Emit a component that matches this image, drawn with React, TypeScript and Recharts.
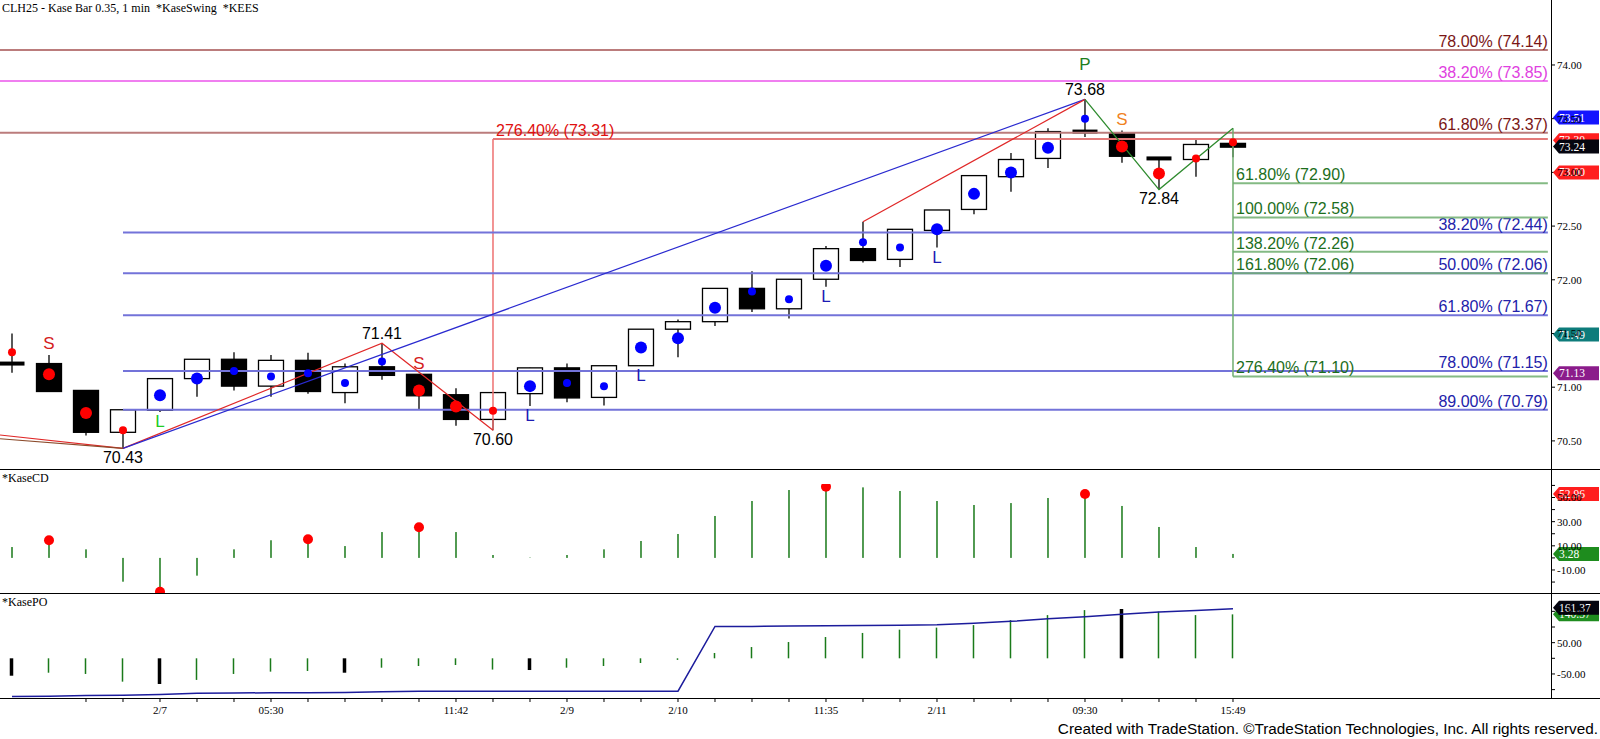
import React from "react";
import {
  Bar,
  ComposedChart,
  Line,
  ReferenceDot,
  ReferenceLine,
  Scatter,
  XAxis,
  YAxis,
} from "recharts";

document.body.style.margin = "0";

const SANS = '"Liberation Sans", Arial, sans-serif';
const SERIF = '"Liberation Serif", "Times New Roman", serif';

// x is the bar index; the plot runs from X_MIN (left edge) to X_MAX (price axis)
const X_MIN = -0.3243;
const X_MAX = 41.595;
const X_END = 41.51;
const barTicks = Array.from({ length: 34 }, (_, i) => i);

// Kase bars, oldest first
const opens = [71.22, 71.22, 70.97, 70.58, 70.785, 71.08, 71.26, 71.01, 71.25, 70.95, 71.19, 71.12, 70.93, 70.7, 70.94, 71.18, 70.905, 71.2, 71.54, 71.61, 71.92, 71.73, 72.005, 72.29, 72.19, 72.46, 72.655, 72.96, 73.13, 73.38, 73.37, 73.13, 73.12, 73.27];
const highs = [71.5, 71.3, 70.97, 70.79, 71.08, 71.26, 71.325, 71.3, 71.32, 71.22, 71.41, 71.12, 70.99, 70.95, 71.18, 71.22, 71.2, 71.54, 71.63, 71.92, 72.08, 72.005, 72.315, 72.54, 72.47, 72.65, 72.975, 73.18, 73.41, 73.68, 73.39, 73.13, 73.31, 73.27];
const lows = [71.135, 70.955, 70.55, 70.43, 70.77, 70.91, 70.97, 70.91, 70.94, 70.85, 71.07, 70.79, 70.64, 70.6, 70.825, 70.86, 70.83, 71.2, 71.28, 71.57, 71.7, 71.64, 71.935, 72.16, 72.12, 72.3, 72.61, 72.82, 73.04, 73.33, 73.09, 72.84, 72.96, 73.14];
const closes = [71.22, 70.96, 70.58, 70.79, 71.08, 71.26, 71.01, 71.25, 70.96, 71.19, 71.11, 70.92, 70.7, 70.95, 71.18, 70.9, 71.2, 71.54, 71.61, 71.92, 71.73, 72.005, 72.29, 72.18, 72.47, 72.65, 72.97, 73.12, 73.38, 73.38, 73.15, 73.13, 73.26, 73.235];

// KaseSwing dots: R/r = sell (big/small), B/b = buy (big/small)
const dotValues = [71.325, 71.12, 70.76, 70.6, 70.925, 71.08, 71.15, 71.1, 71.13, 71.04, 71.24, 70.97, 70.82, 70.78, 71.01, 71.04, 71.01, 71.37, 71.455, 71.74, 71.89, 71.82, 72.13, 72.35, 72.3, 72.47, 72.8, 73.0, 73.23, 73.5, 73.24, 72.99, 73.13, 73.28];
const dotTypes = ["r", "R", "R", "r", "B", "B", "b", "b", "b", "b", "b", "R", "R", "r", "B", "b", "b", "B", "B", "B", "b", "b", "B", "b", "b", "B", "B", "B", "B", "b", "R", "R", "r", "r"];

// swing signals per bar
const signals = ["", "S", "", "", "Lg", "", "", "", "", "", "", "S", "", "", "L", "", "", "L", "", "", "", "", "L", "", "", "L", "", "", "", "P", "So", "", "", ""];

const timeLabels = ["", "", "", "", "2/7", "", "", "05:30", "", "", "", "", "11:42", "", "", "2/9", "", "", "2/10", "", "", "", "11:35", "", "", "2/11", "", "", "", "09:30", "", "", "", "15:49"];

// swing points
const swingBars = [3, 10, 13, 29, 31];
const swingPrices = [70.43, 71.41, 70.6, 73.68, 72.84];
const swingSides = ["below", "above", "below", "above", "below"];

// legs coming in from off-screen on the left, ending at the 70.43 low
const entryPrices = [70.555, 70.52];
const entryKinds = ["red", "brown"];

const redZig = [
  { x: 3, p: 70.43 },
  { x: 10, p: 71.41 },
  { x: 13, p: 70.6 },
];
const blueSwing = [
  { x: 3, p: 70.43 },
  { x: 29, p: 73.68 },
];
const redSwing = [
  { x: 23, p: 72.54 },
  { x: 29, p: 73.68 },
];
const greenZig = [
  { x: 29, p: 73.68 },
  { x: 31, p: 72.84 },
  { x: 33, p: 73.41 },
];

// Fibonacci levels
const upperPrices = [74.14, 73.85, 73.37];
const upperPcts = ["78.00%", "38.20%", "61.80%"];
const upperKinds = ["brown", "pink", "brown"];
const redPrice = 73.31;
const redPct = "276.40%";
const bluePrices = [72.44, 72.06, 71.67, 71.15, 70.79];
const bluePcts = ["38.20%", "50.00%", "61.80%", "78.00%", "89.00%"];
const greenPrices = [72.9, 72.58, 72.26, 72.06, 71.1];
const greenPcts = ["61.80%", "100.00%", "138.20%", "161.80%", "276.40%"];

// last-value flags on the axes
const priceTagValues = [73.51, 73.3, 73.24, 73.0, 71.49, 71.13];
const priceTagKinds = ["blue", "red", "black", "red", "teal", "purple"];
const priceTicks = [70.5, 71, 71.5, 72, 72.5, 73, 73.5, 74];

// KaseCD
const kaseCD = [9, 14.6, 7.1, -19.7, -28, -14.7, 7.1, 14.6, 15.4, 9.8, 21.4, 25.3, 21.4, 2.4, 0.3, 2.4, 7.1, 14, 19.8, 34.7, 47.1, 56.2, 59, 58.4, 55.4, 47.1, 43.8, 45.4, 49.6, 52.96, 43, 25.6, 9, 3.28];
const cdDotBars = [1, 4, 8, 11, 22, 29];
const cdTicks = [60, 50, 40, 30, 20, 10, 0, -10, -20];
const cdTickLabels = [50, 30, 10, -10];
const cdTagValues = [52.96, 3.28];
const cdTagKinds = ["red", "green"];

// KasePO
const kasePO = [-55.6, -46, -50, -74.6, -82, -69, -50, -42.6, -40.5, -46, -30, -24.6, -21.4, -36, -37.4, -30, -24.6, -15, -5, 17, 36, 52, 68, 81, 91.5, 98, 106, 122, 138, 154, 157.5, 149, 138, 140.37];
const poPeakBars = [0, 4, 9, 14, 30];
const poLine = [-122, -121, -119, -118, -116, -112, -111, -110, -110, -109, -107, -105, -105, -105, -105, -105, -105, -105, -105, 102, 102, 103, 104, 105, 106, 107, 112, 118, 126, 133, 141, 148, 153, 158];
const poTicks = [150, 100, 50, 0, -50, -100];
const poTickLabels = [150, 50, -50];
const poTagValues = [140.37, 161.37];
const poTagKinds = ["green", "black"];

const TAG_COLORS: Record<string, string> = {
  blue: "#1414ff",
  red: "#ff1e1e",
  black: "#05050f",
  teal: "#0e7c7b",
  purple: "#8b1c8b",
  green: "#1e8c1e",
};

const SIGNAL_STYLE: Record<string, { text: string; color: string; dy: number }> = {
  S: { text: "S", color: "#d42020", dy: -11 },
  So: { text: "S", color: "#f0821e", dy: -11 },
  L: { text: "L", color: "#1c1cb4", dy: 10 },
  Lg: { text: "L", color: "#22cc22", dy: 10 },
  P: { text: "P", color: "#1e7e1e", dy: -35 },
};

const candles = opens.map((open, i) => ({
  x: i,
  open,
  high: highs[i],
  low: lows[i],
  close: closes[i],
  range: [lows[i], highs[i]],
}));

const dots = dotValues.map((y, i) => ({ x: i, y, type: dotTypes[i] }));

const marks = signals
  .map((code, i) => ({ x: i, y: code.startsWith("L") ? lows[i] : highs[i], code }))
  .filter((m) => m.code !== "");

const swings = swingBars.map((x, i) => ({
  x,
  y: swingPrices[i],
  text: swingPrices[i].toFixed(2),
  side: swingSides[i],
}));

const cdRows = kaseCD.map((cd, i) => ({ x: i, cd }));
const cdDots = cdDotBars.map((i) => ({ x: i, y: kaseCD[i] }));
const poRows = kasePO.map((po, i) => ({
  x: i,
  po,
  line: poLine[i],
  peak: poPeakBars.includes(i),
}));

function Candle(props: any) {
  const { x, y, width, height, payload } = props;
  if (!payload || height == null) return null;
  const top = Math.min(y, y + height);
  const span = Math.abs(height);
  const { open, high, low, close } = payload;
  const k = span / (high - low);
  const py = (v: number) => top + (high - v) * k;
  const cx = x + width / 2;
  const bw = 25;
  const doji = Math.abs(open - close) < 0.01;
  const bodyTop = py(Math.max(open, close));
  const bodyBottom = py(Math.min(open, close));
  return (
    <g>
      <line x1={cx} x2={cx} y1={py(high)} y2={py(low)} stroke="#000" strokeWidth={1.3} />
      {doji ? (
        <rect x={cx - bw / 2} y={py(open) - 2} width={bw} height={4} fill="#000" />
      ) : (
        <rect
          x={cx - bw / 2}
          y={bodyTop}
          width={bw}
          height={bodyBottom - bodyTop}
          fill={close < open ? "#000" : "#fff"}
          stroke="#000"
          strokeWidth={1.3}
        />
      )}
    </g>
  );
}

function SwingDot(props: any) {
  const { cx, cy, payload } = props;
  const t = payload.type as string;
  const color = t.toLowerCase() === "r" ? "#ff0000" : "#0000ff";
  const r = t === t.toUpperCase() ? 6 : 4;
  return <circle cx={cx} cy={cy} r={r} fill={color} />;
}

function SignalText(props: any) {
  const { cx, cy, payload } = props;
  const s = SIGNAL_STYLE[payload.code];
  return (
    <text x={cx} y={cy + s.dy} textAnchor="middle" dominantBaseline="central" fontSize={17} fontFamily={SANS} fill={s.color}>
      {s.text}
    </text>
  );
}

function SwingText(props: any) {
  const { cx, cy, payload } = props;
  const dy = payload.side === "above" ? -10 : 9;
  return (
    <text x={cx} y={cy + dy} textAnchor="middle" dominantBaseline="central" fontSize={16} fontFamily={SANS} fill="#000">
      {payload.text}
    </text>
  );
}

function FibLabel(props: any) {
  const { viewBox, labelText, labelColor, labelAlign } = props;
  if (!viewBox) return null;
  const end = labelAlign === "end";
  return (
    <text
      x={end ? viewBox.x + viewBox.width : viewBox.x + 3}
      y={viewBox.y - 3}
      textAnchor={end ? "end" : "start"}
      fill={labelColor}
      fontSize={16}
      fontFamily={SANS}
    >
      {labelText}
    </text>
  );
}

function Tag(props: any) {
  const { cx, cy, tagColor, tagText } = props;
  if (cx == null || cy == null) return null;
  return (
    <g>
      <polygon
        points={`${cx + 2},${cy} ${cx + 8},${cy - 7} ${cx + 48},${cy - 7} ${cx + 48},${cy + 7} ${cx + 8},${cy + 7}`}
        fill={tagColor}
      />
      <text x={cx + 8} y={cy + 4} fill="#fff" fontSize={11.5} fontFamily={SERIF}>
        {tagText}
      </text>
    </g>
  );
}

function CdBar(props: any) {
  const { x, y, width, height } = props;
  if (height == null) return null;
  const top = Math.min(y, y + height);
  return <rect x={x + width / 2 - 0.75} y={top} width={1.5} height={Math.abs(height)} fill="#1a7a1a" />;
}

function PoBar(props: any) {
  const { x, y, width, height, payload } = props;
  if (height == null) return null;
  const top = Math.min(y, y + height);
  const w = payload.peak ? 3.5 : 1.5;
  return (
    <rect x={x + width / 2 - w / 2} y={top} width={w} height={Math.abs(height)} fill={payload.peak ? "#000" : "#1a7a1a"} />
  );
}

const axisTick = { fontSize: 11, fontFamily: SERIF, fill: "#000" };
const tickLine = { stroke: "#000" };

const fibText = (pct: string, price: number) => `${pct} (${price.toFixed(2)})`;

const rule = (top: number): React.CSSProperties => ({
  position: "absolute",
  left: 0,
  top,
  width: 1600,
  height: 1,
  background: "#000",
});

const caption = (top: number): React.CSSProperties => ({
  position: "absolute",
  left: 2,
  top,
  fontFamily: SERIF,
  fontSize: 12,
  whiteSpace: "pre",
  color: "#000",
});

export default function App() {
  return (
    <div style={{ position: "relative", width: 1600, height: 739, background: "#fff", overflow: "hidden" }}>
      <div style={{ position: "absolute", left: 0, top: 0 }}>
        <ComposedChart width={1600} height={469} data={candles} margin={{ top: 0, right: 0, bottom: 0, left: 0 }}>
          <XAxis dataKey="x" type="number" domain={[X_MIN, X_MAX]} ticks={barTicks} allowDataOverflow hide />
          <YAxis
            orientation="right"
            type="number"
            width={49}
            domain={[70.2384, 74.605]}
            allowDataOverflow
            ticks={priceTicks}
            tickFormatter={(v) => Number(v).toFixed(2)}
            tick={axisTick}
            tickLine={tickLine}
            tickSize={4}
            tickMargin={2}
            axisLine={false}
          />

          {upperPrices.map((p, i) => (
            <ReferenceLine
              key={`u${i}`}
              segment={[{ x: X_MIN, y: p }, { x: X_END, y: p }]}
              stroke={upperKinds[i] === "pink" ? "#f07ff0" : "#bb7c7c"}
              strokeWidth={2}
              ifOverflow="visible"
              label={
                <FibLabel
                  labelText={fibText(upperPcts[i], p)}
                  labelColor={upperKinds[i] === "pink" ? "#e040e0" : "#7a1616"}
                  labelAlign="end"
                />
              }
            />
          ))}
          <ReferenceLine
            segment={[{ x: 13, y: redPrice }, { x: X_END, y: redPrice }]}
            stroke="#e47a7a"
            strokeWidth={2}
            ifOverflow="visible"
            label={<FibLabel labelText={fibText(redPct, redPrice)} labelColor="#e01010" labelAlign="start" />}
          />
          <ReferenceLine
            segment={[{ x: 13, y: swingPrices[2] }, { x: 13, y: redPrice }]}
            stroke="#ee7070"
            strokeWidth={1.5}
            ifOverflow="visible"
          />
          {bluePrices.map((p, i) => (
            <ReferenceLine
              key={`b${i}`}
              segment={[{ x: 3, y: p }, { x: X_END, y: p }]}
              stroke="#7373d9"
              strokeWidth={2}
              ifOverflow="visible"
              label={<FibLabel labelText={fibText(bluePcts[i], p)} labelColor="#2222aa" labelAlign="end" />}
            />
          ))}
          {greenPrices.map((p, i) => (
            <ReferenceLine
              key={`g${i}`}
              segment={[{ x: 33, y: p }, { x: X_END, y: p }]}
              stroke="#6fae6f"
              strokeOpacity={0.85}
              strokeWidth={2}
              ifOverflow="visible"
              label={<FibLabel labelText={fibText(greenPcts[i], p)} labelColor="#1c6e1c" labelAlign="start" />}
            />
          ))}
          <ReferenceLine
            segment={[{ x: 33, y: greenZig[2].p }, { x: 33, y: greenPrices[4] }]}
            stroke="#6fae6f"
            strokeWidth={1.5}
            ifOverflow="visible"
          />

          <Bar dataKey="range" barSize={25} isAnimationActive={false} shape={(p: any) => <Candle {...p} />} />

          {entryPrices.map((p, i) => (
            <ReferenceLine
              key={`e${i}`}
              segment={[{ x: X_MIN, y: p }, { x: swingBars[0], y: swingPrices[0] }]}
              stroke={entryKinds[i] === "red" ? "#e02828" : "#8b4a2a"}
              strokeWidth={1.2}
              ifOverflow="visible"
            />
          ))}
          <Line data={redZig} dataKey="p" stroke="#e02828" strokeWidth={1.2} dot={false} activeDot={false} isAnimationActive={false} />
          <Line data={blueSwing} dataKey="p" stroke="#2a2ad0" strokeWidth={1.2} dot={false} activeDot={false} isAnimationActive={false} />
          <Line data={redSwing} dataKey="p" stroke="#e02828" strokeWidth={1.2} dot={false} activeDot={false} isAnimationActive={false} />
          <Line data={greenZig} dataKey="p" stroke="#2e8b2e" strokeWidth={1.3} dot={false} activeDot={false} isAnimationActive={false} />

          <Scatter data={dots} dataKey="y" isAnimationActive={false} shape={(p: any) => <SwingDot {...p} />} />
          <Scatter data={marks} dataKey="y" isAnimationActive={false} shape={(p: any) => <SignalText {...p} />} />
          <Scatter data={swings} dataKey="y" isAnimationActive={false} shape={(p: any) => <SwingText {...p} />} />

          {priceTagValues.map((v, i) => (
            <ReferenceDot
              key={`t${i}`}
              x={X_MAX}
              y={v}
              ifOverflow="visible"
              shape={(p: any) => <Tag {...p} tagColor={TAG_COLORS[priceTagKinds[i]]} tagText={v.toFixed(2)} />}
            />
          ))}
        </ComposedChart>
      </div>

      <div style={{ position: "absolute", left: 0, top: 469 }}>
        <ComposedChart width={1600} height={124} data={cdRows} margin={{ top: 15, right: 0, bottom: 0, left: 0 }}>
          <XAxis dataKey="x" type="number" domain={[X_MIN, X_MAX]} ticks={barTicks} allowDataOverflow hide />
          <YAxis
            orientation="right"
            type="number"
            width={49}
            domain={[-29.06, 61.18]}
            allowDataOverflow
            ticks={cdTicks}
            tickFormatter={(v) => (cdTickLabels.includes(Number(v)) ? Number(v).toFixed(2) : "")}
            tick={axisTick}
            tickLine={tickLine}
            tickSize={4}
            tickMargin={2}
            axisLine={false}
          />
          <Bar dataKey="cd" barSize={3} isAnimationActive={false} shape={(p: any) => <CdBar {...p} />} />
          <Scatter
            data={cdDots}
            dataKey="y"
            isAnimationActive={false}
            shape={(p: any) => <circle cx={p.cx} cy={p.cy} r={5} fill="#ff0000" />}
          />
          {cdTagValues.map((v, i) => (
            <ReferenceDot
              key={`c${i}`}
              x={X_MAX}
              y={v}
              ifOverflow="visible"
              shape={(p: any) => <Tag {...p} tagColor={TAG_COLORS[cdTagKinds[i]]} tagText={v.toFixed(2)} />}
            />
          ))}
        </ComposedChart>
      </div>

      <div style={{ position: "absolute", left: 0, top: 593 }}>
        <ComposedChart width={1600} height={135} data={poRows} margin={{ top: 12, right: 0, bottom: 0, left: 0 }}>
          <XAxis
            dataKey="x"
            type="number"
            domain={[X_MIN, X_MAX]}
            allowDataOverflow
            ticks={barTicks.slice(2)}
            interval={0}
            tickFormatter={(v) => timeLabels[Number(v)] ?? ""}
            tick={axisTick}
            tickLine={tickLine}
            tickSize={4}
            tickMargin={4}
            axisLine={false}
            height={30}
          />
          <YAxis
            orientation="right"
            type="number"
            width={49}
            domain={[-126.8, 170.3]}
            allowDataOverflow
            ticks={poTicks}
            tickFormatter={(v) => (poTickLabels.includes(Number(v)) ? Number(v).toFixed(2) : "")}
            tick={axisTick}
            tickLine={tickLine}
            tickSize={4}
            tickMargin={2}
            axisLine={false}
          />
          <Bar dataKey="po" barSize={4} isAnimationActive={false} shape={(p: any) => <PoBar {...p} />} />
          <Line dataKey="line" stroke="#1c1c9c" strokeWidth={1.5} dot={false} activeDot={false} isAnimationActive={false} />
          {poTagValues.map((v, i) => (
            <ReferenceDot
              key={`o${i}`}
              x={X_MAX}
              y={v}
              ifOverflow="visible"
              shape={(p: any) => <Tag {...p} tagColor={TAG_COLORS[poTagKinds[i]]} tagText={v.toFixed(2)} />}
            />
          ))}
        </ComposedChart>
      </div>

      <div style={rule(469)} />
      <div style={rule(593)} />
      <div style={rule(698)} />
      <div style={{ position: "absolute", left: 1551, top: 0, width: 1, height: 698, background: "#000" }} />

      <div style={caption(1)}>{"CLH25 - Kase Bar 0.35, 1 min  *KaseSwing  *KEES"}</div>
      <div style={caption(471)}>*KaseCD</div>
      <div style={caption(595)}>*KasePO</div>
      <div
        style={{
          position: "absolute",
          right: 2,
          top: 720,
          fontFamily: SANS,
          fontSize: 15.3,
          lineHeight: "18px",
          color: "#000",
          whiteSpace: "nowrap",
        }}
      >
        Created with TradeStation. ©TradeStation Technologies, Inc. All rights reserved.
      </div>
    </div>
  );
}
